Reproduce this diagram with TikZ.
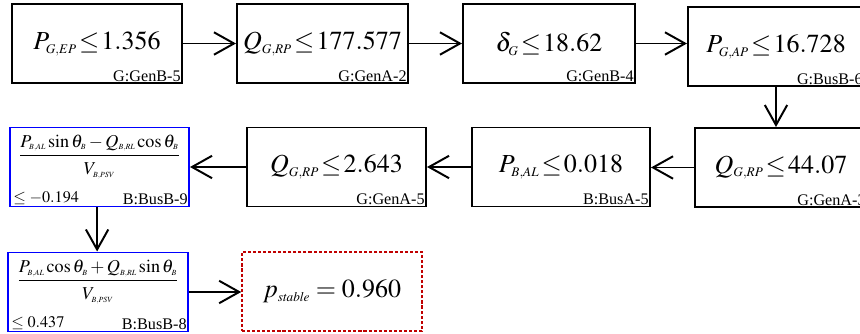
\documentclass[tikz,border=0pt]{standalone}
\usepackage{amsmath}
\usepackage{mathptmx}
\usepackage{fontspec}
\setmainfont{Liberation Serif}
\usetikzlibrary{arrows.meta}

% small indices, as in the formula editor output
\DeclareMathSizes{18.5}{18.5}{9.4}{7}
\DeclareMathSizes{12.9}{12.9}{5.6}{5}
\DeclareMathSizes{11.5}{11.5}{7}{5}

\definecolor{stablered}{RGB}{192,0,0}

\tikzset{
  cond/.style={rectangle, draw, line width=1.4pt, minimum height=1.975cm, inner sep=0pt,
    font=\fontsize{18.5}{22}\selectfont, execute at begin node={\thickmuskip=1.5mu\relax}},
  busbox/.style={rectangle, draw=blue, line width=1.4pt, minimum height=1.975cm, inner sep=0pt},
  stablebox/.style={rectangle, draw=stablered, line width=1.1pt, dash pattern=on 2.2pt off 1.4pt,
    minimum height=1.975cm, inner sep=0pt, font=\fontsize{18.5}{22}\selectfont},
  tag/.style={anchor=south east, inner sep=1.5pt, font=\fontsize{11.5}{13}\selectfont},
  bustag/.style={inner sep=1.5pt, font=\fontsize{11.5}{13}\selectfont},
  ratio/.style={anchor=north, inner sep=0pt, font=\fontsize{12.9}{15}\selectfont},
  flow/.style={-{Straight Barb[length=0.5cm, width=0.56cm]}, line width=1.4pt},
}

\begin{document}
\begin{tikzpicture}[x=0.025cm, y=-0.025cm]
  \clip (0,0) rectangle (860,334);

  % top row, left to right
  \node[cond, minimum width=4.25cm] (pep) at (97,43.5) {$P_{G,EP}\le 1.356$};
  \node[tag] (peptag) at (pep.south east) {G:GenB-5};
  \node[cond, minimum width=4.275cm] (qrpa) at (322.5,43.5) {$Q_{G,RP}\le 177.577$};
  \node[tag] (qrpatag) at (qrpa.south east) {G:GenA-2};
  \node[cond, minimum width=4.3cm] (dlt) at (549,43.5) {$\delta_G\le 18.62$};
  \node[tag] (dlttag) at (dlt.south east) {G:GenB-4};
  \node[cond, minimum width=4.4cm] (pap) at (776,46.5) {$P_{G,AP}\le 16.728$};
  \node[tag] (paptag) at (pap.south east) {G:BusB-6};

  % middle row, right to left
  \node[cond, minimum width=4.3cm] (qrpb) at (781,167.5) {$Q_{G,RP}\le 44.07$};
  \node[tag] (qrpbtag) at (qrpb.south east) {G:GenA-3};
  \node[cond, minimum width=4.45cm] (pal) at (561,167) {$P_{B,AL}\le 0.018$};
  \node[tag] (paltag) at (pal.south east) {B:BusA-5};
  \node[cond, minimum width=4.475cm] (qrpc) at (336.5,167) {$Q_{G,RP}\le 2.643$};
  \node[tag] (qrpctag) at (qrpc.south east) {G:GenA-5};
  \node[busbox, minimum width=4.475cm] (vsin) at (99.5,167) {};
  \node[ratio] (vsinfrac) at ([yshift=-0.2cm]vsin.north)
    {$\dfrac{P_{B,AL}\sin\theta_B-Q_{B,RL}\cos\theta_B\rule[-4pt]{0pt}{4pt}}{\rule{0pt}{12pt}V_{B,PSV}}$};
  \node[bustag, anchor=south west] (vsinval) at ([xshift=0.05cm]vsin.south west) {$\le -0.194$};
  \node[bustag, anchor=south east] (vsintag) at (vsin.south east) {B:BusB-9};

  % bottom row
  \node[busbox, minimum width=4.5cm] (vcos) at (98,292) {};
  \node[ratio] (vcosfrac) at ([yshift=-0.2cm]vcos.north)
    {$\dfrac{P_{B,AL}\cos\theta_B+Q_{B,RL}\sin\theta_B\rule[-4pt]{0pt}{4pt}}{\rule{0pt}{12pt}V_{B,PSV}}$};
  \node[bustag, anchor=south west] (vcosval) at ([xshift=0.05cm]vcos.south west) {$\le 0.437$};
  \node[bustag, anchor=south east] (vcostag) at (vcos.south east) {B:BusB-8};
  \node[stablebox, minimum width=4.5cm] (pstab) at (332,291.5) {$p_{\mathit{stable}}=0.960$};

  % connectors
  \draw[flow] (pep) -- (qrpa);
  \draw[flow] (qrpa) -- (dlt);
  \draw[flow] (dlt.east) -- (dlt.east -| pap.west);
  \draw[flow] (pap.south) -- (pap.south |- qrpb.north);
  \draw[flow] (qrpb.west) -- (qrpb.west -| pal.east);
  \draw[flow] (pal) -- (qrpc);
  \draw[flow] (qrpc) -- (vsin);
  \draw[flow] ([xshift=-0.06cm]vsin.south) -- ([xshift=-0.06cm]vsin.south |- vcos.north);
  \draw[flow] (vcos.east) -- (vcos.east -| pstab.west);
\end{tikzpicture}
\end{document}
